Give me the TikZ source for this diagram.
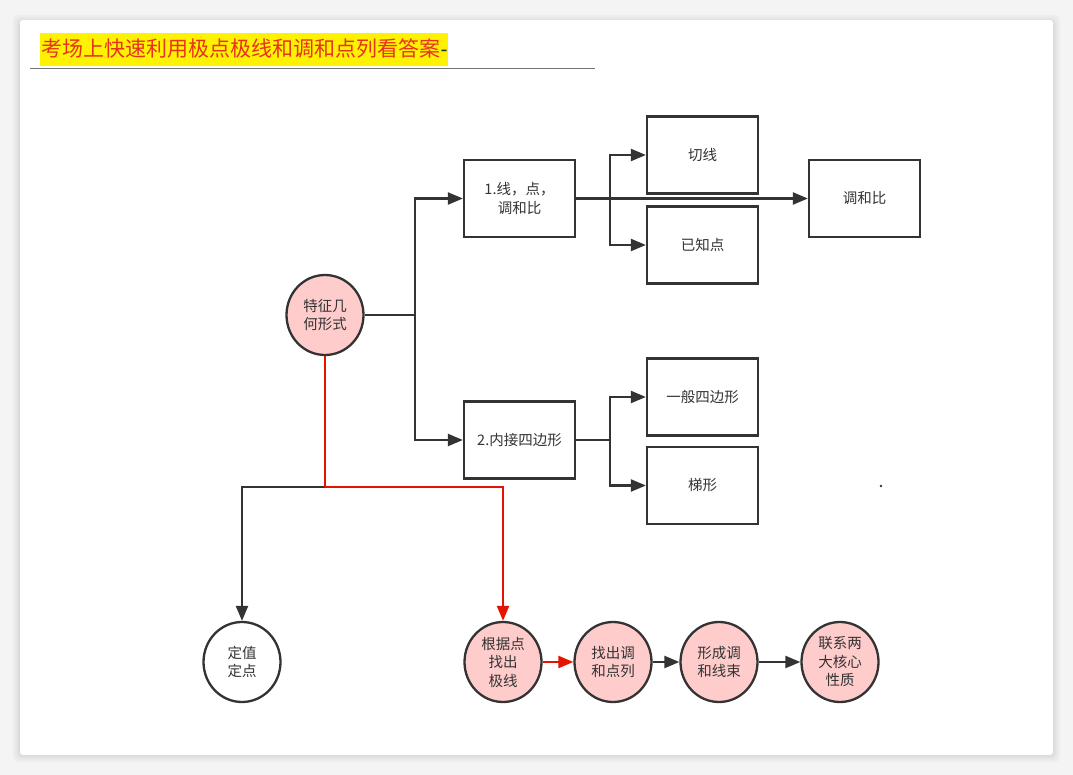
\documentclass[tikz,border=0pt]{standalone}
\usepackage{fontspec}
\setmainfont{Noto Sans CJK SC}
\newfontfamily\latinfont{Liberation Sans}
\usetikzlibrary{arrows.meta,shapes.geometric}
\definecolor{ink}{HTML}{333333}
\definecolor{pinkfill}{HTML}{FFCCCC}
\definecolor{redline}{HTML}{E51400}
\definecolor{titlered}{HTML}{E8321E}
\definecolor{pagebg}{HTML}{F4F4F4}
\tikzset{
  x=1pt, y=-1pt,
  every node/.style={font=\fontsize{14.5}{18.5}\selectfont, text=ink, align=center},
  box/.style={draw=ink, line width=2.3pt, fill=white, minimum width=111pt, minimum height=77pt, inner sep=0pt},
  circ/.style={draw=ink, line width=2.3pt, ellipse, minimum width=77pt, minimum height=80pt, inner sep=0pt},
  pinkc/.style={circ, fill=pinkfill},
  whitec/.style={circ, fill=white},
  conn/.style={draw=ink, line width=2.3pt, -{Triangle[length=15pt,width=12pt]}},
  plain/.style={draw=ink, line width=2.3pt},
  rconn/.style={draw=redline, line width=2.3pt, -{Triangle[length=15pt,width=12pt]}},
  rplain/.style={draw=redline, line width=2.3pt},
}
\begin{document}
\begin{tikzpicture}
\useasboundingbox (0,0) rectangle (1073,775);
\fill[pagebg] (0,0) rectangle (1073,775);
% card shadow
\foreach \d/\c in {7/97,5/95,3/92,1/88}{
  \fill[pagebg!\c!black, rounded corners=5pt] (20-\d,20-\d+2) rectangle (1053+\d,755+\d);
}
\fill[white, rounded corners=3pt] (20,20) rectangle (1053,755);
% title
\fill[yellow] (40,33) rectangle (448,66);
\node[anchor=west, inner sep=0pt, font=\fontsize{21}{24}\selectfont, text=titlered] (title) at (41,49) {考场上快速利用极点极线和调和点列看答案};
\node[anchor=base west, inner sep=0pt, font=\latinfont\fontsize{21}{24}\selectfont, text=ink] (dash) at (title.base east) {-};
\draw[black!55, line width=0.8pt] (30,68) -- (595,68);

% nodes
\node[pinkc] (feat) at (325,315) {特征几\\何形式};
\node[box] (b1) at (519.5,198.5) {1.线，点，\\调和比};
\node[box] (b2) at (519.5,440) {2.内接四边形};
\node[box] (qx) at (702.5,155) {切线};
\node[box] (yz) at (702.5,245) {已知点};
\node[box] (thb) at (864.5,198.5) {调和比};
\node[box] (ybs) at (702.5,397) {一般四边形};
\node[box] (tx) at (702.5,485.5) {梯形};
\node[whitec] (dz) at (242,662) {定值\\定点};
\node[pinkc] (gj) at (503,662) {根据点\\找出\\极线};
\node[pinkc] (zc) at (613,662) {找出调\\和点列};
\node[pinkc] (xc) at (719,662) {形成调\\和线束};
\node[pinkc] (lx) at (840,662) {联系两\\大核心\\性质};

\coordinate (j1) at (415,315);
\coordinate (j2) at (610,198.5);
\coordinate (j3) at (610,440);
\coordinate (j4) at (325,487);

% connectors
\draw[plain] (feat.east) -- (j1);
\draw[conn] (j1) |- (b1.west);
\draw[conn] (j1) |- (b2.west);
\draw[conn] (b1.east) -- (thb.west);
\draw[conn] (j2) |- (qx.west);
\draw[conn] (j2) |- (yz.west);
\draw[plain] (b2.east) -- (j3);
\draw[conn] (j3) |- (ybs.west);
\draw[conn] (j3) |- (tx.west);
\draw[conn] (j4) -| (dz.north);
\draw[rplain] (feat.south) -- (j4);
\draw[rconn] (j4) -| (gj.north);
\draw[rconn] (gj.east) -- (zc.west);
\draw[conn] (zc.east) -- (xc.west);
\draw[conn] (xc.east) -- (lx.west);

\fill[ink] (881,486) circle (1.4pt);
\end{tikzpicture}
\end{document}
